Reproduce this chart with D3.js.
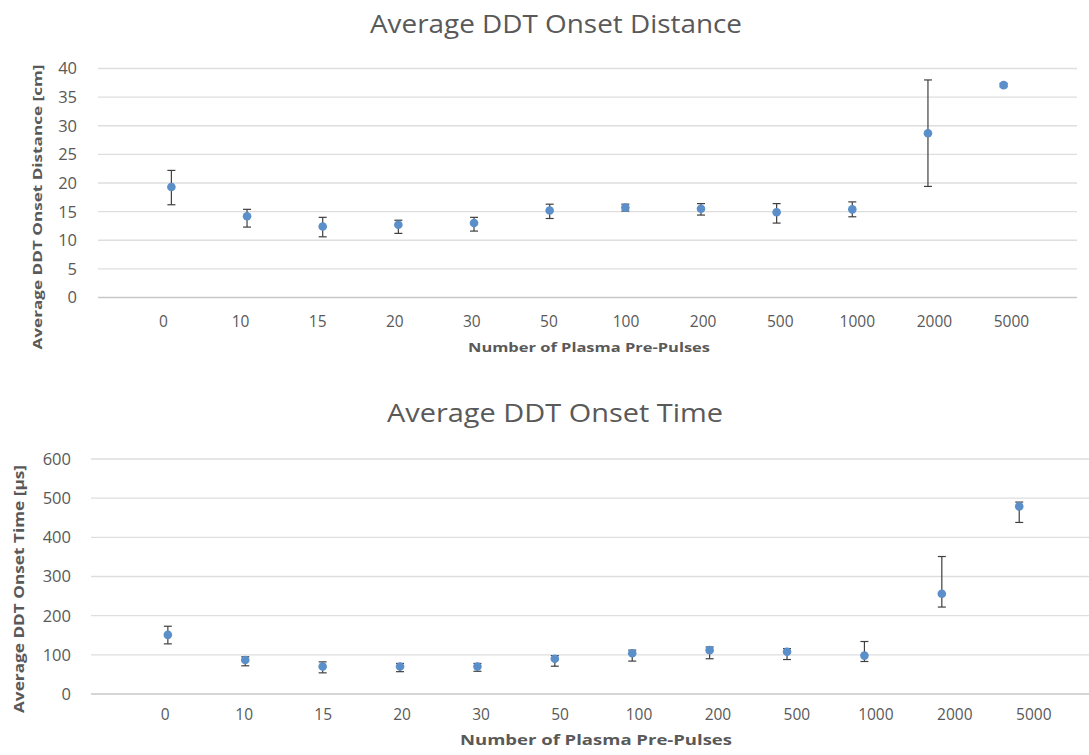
<!DOCTYPE html>
<html>
<head>
<meta charset="utf-8">
<script src="https://cdn.jsdelivr.net/npm/d3@7"></script>
<style>
  body { margin: 0; background: #fff; }
  text { font-family: "Open Sans", "Noto Sans", sans-serif; fill: #595959; }
</style>
</head>
<body>
<div id="chart"></div>
<script>
// data
var categories = ["0", "10", "15", "20", "30", "50", "100", "200", "500", "1000", "2000", "5000"];

var distance      = [19.3, 14.2, 12.4, 12.7, 13.0, 15.2, 15.7, 15.5, 14.9, 15.4, 28.7, 37.1];
var distancePlus  = [2.9, 1.2, 1.6, 0.8, 1.0, 1.1, 0.6, 0.9, 1.5, 1.3, 9.3, 0.3];
var distanceMinus = [3.1, 1.9, 1.8, 1.5, 1.4, 1.4, 0.6, 1.1, 1.9, 1.3, 9.3, 0.3];
var distanceTicks = [0, 5, 10, 15, 20, 25, 30, 35, 40];

var onsetTime      = [151, 87, 70, 70, 70, 90, 104, 112, 108, 98, 256, 479];
var onsetTimePlus  = [22, 8, 12, 8, 8, 8, 8, 8, 8, 36, 95, 11];
var onsetTimeMinus = [23, 15, 16, 13, 12, 19, 20, 22, 20, 15, 34, 41];
var timeTicks = [0, 100, 200, 300, 400, 500, 600];

var W = 1089, H = 755;

var svg = d3.select("#chart")
    .append("svg")
    .attr("width", W)
    .attr("height", H);

// one excel-ish scatter panel with error bars
function drawPanel(opt) {
    var g = svg.append("g");

    var y = d3.scaleLinear()
        .domain([0, d3.max(opt.ticks)])
        .range([opt.bottom, opt.top]);

    // labels and markers sit a little differently in the original
    var xLabel = d3.scalePoint()
        .domain(categories)
        .range([opt.left, opt.right])
        .padding(opt.labelPad).align(0.5);
    var xMark = d3.scalePoint()
        .domain(categories)
        .range([opt.left, opt.right])
        .padding(opt.markPad).align(opt.markAlign);

    // gridlines
    g.selectAll(".grid")
        .data(opt.ticks)
        .enter().append("line")
        .attr("x1", opt.left)
        .attr("x2", opt.right)
        .attr("y1", function(d) { return y(d); })
        .attr("y2", function(d) { return y(d); })
        .style("stroke", function(d) { return d == 0 ? "#c8c8c8" : "#dedede"; })
        .style("stroke-width", 1.3);

    // y tick labels
    g.selectAll(".ylab")
        .data(opt.ticks)
        .enter().append("text")
        .attr("x", opt.left - opt.yLabGap)
        .attr("y", function(d) { return y(d); })
        .attr("dy", "0.36em")
        .style("text-anchor", "end")
        .style("font-size", "16.5px")
        .text(function(d) { return d; });

    // x tick labels
    g.selectAll(".xlab")
        .data(categories)
        .enter().append("text")
        .attr("x", function(d) { return xLabel(d); })
        .attr("y", opt.xLabY)
        .style("text-anchor", "middle")
        .style("font-size", "15.5px")
        .text(function(d) { return d; });

    // error bars
    var bars = g.selectAll(".err")
        .data(categories)
        .enter().append("g")
        .attr("class", "err")
        .style("stroke", "#3f3f3f")
        .style("stroke-width", 1.2);
    bars.append("line")
        .attr("x1", function(d) { return xMark(d); })
        .attr("x2", function(d) { return xMark(d); })
        .attr("y1", function(d, i) { return y(opt.values[i] + opt.plus[i]); })
        .attr("y2", function(d, i) { return y(opt.values[i] - opt.minus[i]); });
    bars.append("line")
        .attr("x1", function(d) { return xMark(d) - 4; })
        .attr("x2", function(d) { return xMark(d) + 4; })
        .attr("y1", function(d, i) { return y(opt.values[i] + opt.plus[i]); })
        .attr("y2", function(d, i) { return y(opt.values[i] + opt.plus[i]); });
    bars.append("line")
        .attr("x1", function(d) { return xMark(d) - 4; })
        .attr("x2", function(d) { return xMark(d) + 4; })
        .attr("y1", function(d, i) { return y(opt.values[i] - opt.minus[i]); })
        .attr("y2", function(d, i) { return y(opt.values[i] - opt.minus[i]); });

    // markers
    g.selectAll(".pt")
        .data(categories)
        .enter().append("circle")
        .attr("cx", function(d) { return xMark(d); })
        .attr("cy", function(d, i) { return y(opt.values[i]); })
        .attr("r", 4.3)
        .style("fill", "#5b8fc9");

    // titles
    g.append("text")
        .attr("x", opt.titleX)
        .attr("y", opt.titleY)
        .attr("textLength", opt.titleLen)
        .attr("lengthAdjust", "spacingAndGlyphs")
        .style("text-anchor", "middle")
        .style("font-size", "25px")
        .text(opt.title);

    g.append("text")
        .attr("x", opt.xTitleX)
        .attr("y", opt.xTitleY)
        .attr("textLength", opt.xTitleLen)
        .attr("lengthAdjust", "spacingAndGlyphs")
        .style("text-anchor", "middle")
        .style("font-size", opt.xTitleSize)
        .style("font-weight", "bold")
        .text("Number of Plasma Pre-Pulses");

    g.append("text")
        .attr("transform", "translate(" + opt.yTitleX + "," + opt.yTitleY + ") rotate(-90)")
        .attr("dy", "0.35em")
        .attr("textLength", opt.yTitleLen)
        .attr("lengthAdjust", "spacingAndGlyphs")
        .style("text-anchor", "middle")
        .style("font-size", opt.yTitleSize)
        .style("font-weight", "bold")
        .text(opt.yTitle);
}

drawPanel({
    values: distance, plus: distancePlus, minus: distanceMinus, ticks: distanceTicks,
    left: 98, right: 1077, top: 68.5, bottom: 297.5,
    labelPad: 0.85, markPad: 0.97, markAlign: 0.5,
    yLabGap: 21, xLabY: 327,
    title: "Average DDT Onset Distance", titleX: 556, titleY: 33, titleLen: 372,
    xTitleX: 589, xTitleY: 352, xTitleLen: 242, xTitleSize: "13px",
    yTitle: "Average DDT Onset Distance [cm]", yTitleX: 37, yTitleY: 207, yTitleLen: 285, yTitleSize: "13px"
});

drawPanel({
    values: onsetTime, plus: onsetTimePlus, minus: onsetTimeMinus, ticks: timeTicks,
    left: 91, right: 1108, top: 459, bottom: 694,
    labelPad: 0.94, markPad: 1.07, markAlign: 0.464,
    yLabGap: 20, xLabY: 720,
    title: "Average DDT Onset Time", titleX: 555, titleY: 422, titleLen: 336,
    xTitleX: 596, xTitleY: 745, xTitleLen: 272, xTitleSize: "14px",
    yTitle: "Average DDT Onset Time [µs]", yTitleX: 19, yTitleY: 589, yTitleLen: 248, yTitleSize: "14px"
});
</script>
</body>
</html>
